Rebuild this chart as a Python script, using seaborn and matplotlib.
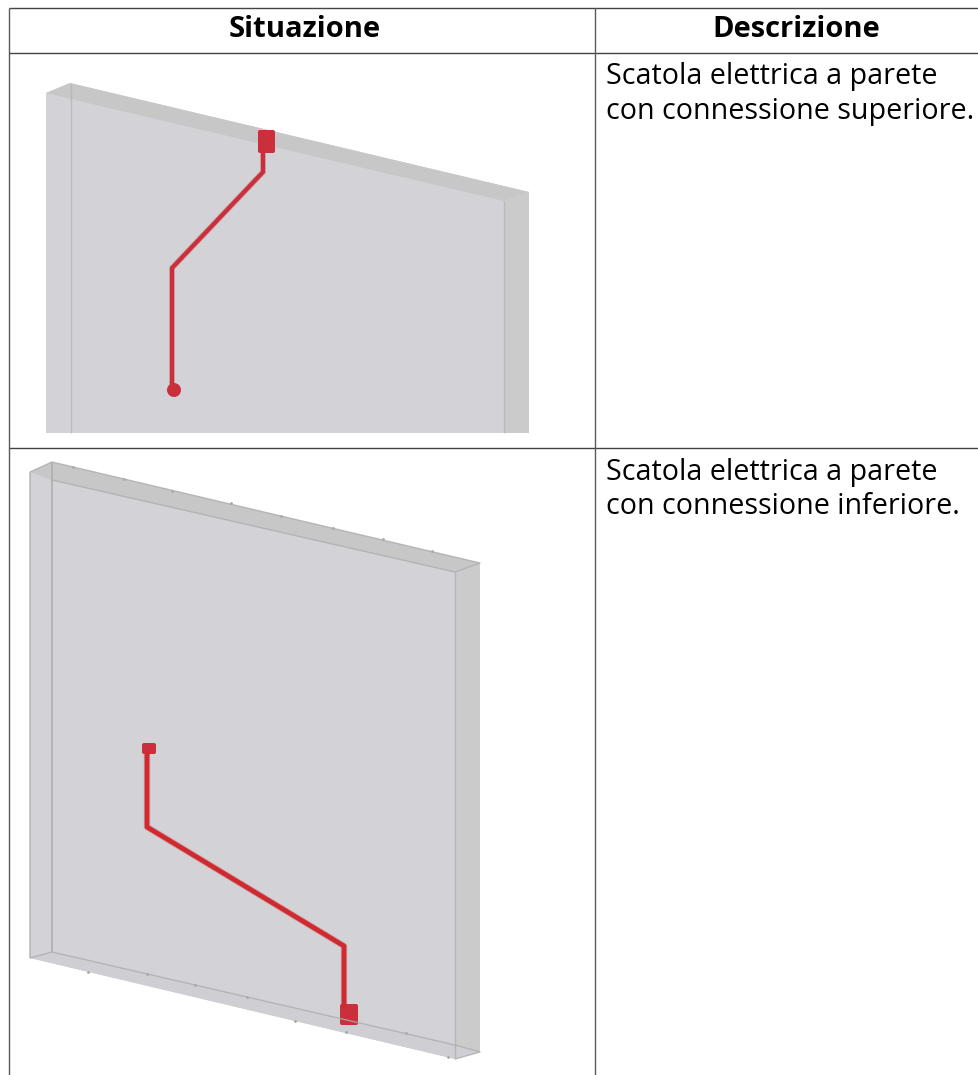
import matplotlib.pyplot as plt
import seaborn as sns
import pandas as pd
from matplotlib.patches import FancyBboxPatch, Circle

# testi tabella
header_labels = ["Situazione", "Descrizione"]
row_texts = ["Scatola elettrica a parete\ncon connessione superiore.",
             "Scatola elettrica a parete\ncon connessione inferiore."]

# griglia tabella (pixel)
grid_h = [8, 53, 448]
grid_v = [9, 595]

# parete 1
wall1_outline = [(46, 93), (70, 83), (529, 192), (529, 433), (46, 433)]
wall1_top = [(46, 93), (70, 83), (529, 192), (504, 201), (71, 99)]
wall1_right = [(504, 201), (529, 192), (529, 433), (504, 433)]
wall1_edge_left = [(71, 84), (71, 433)]
wall1_edge_right = [(504, 201), (504, 433)]
wall1_route_x = [263, 263, 172, 172]
wall1_route_y = [153, 172, 268, 390]
wall1_box = (258, 130, 17, 23)
wall1_end = (174, 390)

# parete 2
wall2_outline = [(30, 472), (52, 462), (480, 563), (480, 1052), (455, 1059), (30, 958)]
wall2_top = [(30, 472), (52, 462), (480, 563), (455, 572), (52, 480)]
wall2_right = [(455, 572), (480, 563), (480, 1052), (455, 1045)]
wall2_bottom = [(30, 958), (52, 952), (455, 1045), (480, 1052), (455, 1059)]
wall2_edge_left = [(52, 462), (52, 952)]
wall2_edge_right = [(455, 572), (455, 1059)]
wall2_edge_front = [(30, 472), (30, 958)]
wall2_route_x = [147, 147, 344, 344]
wall2_route_y = [754, 827, 946, 1005]
wall2_cap = (142, 743, 14, 11)
wall2_box = (340, 1004, 18, 21)
# piccole tacche lungo i bordi
notch_x = [73, 124, 172, 231, 281, 333, 383, 432, 88, 147, 195, 247, 295, 346, 406, 448]
notch_y = [467, 479, 491, 503, 516, 528, 539, 551, 972, 974, 985, 997, 1021, 1032, 1033, 1057]

GREY_FRONT = "#d2d2d7"
GREY_TOP = "#c8c7c7"
GREY_SIDE = "#cbcbcb"
GREY_EDGE = "#aeaeb0"
RED1 = "#c9303b"
RED2 = "#cf2a30"

sns.set_theme(style="white")
plt.rcParams["font.family"] = ["Open Sans", "Noto Sans", "DejaVu Sans"]

fig = plt.figure(figsize=(9.79, 10.75), dpi=100)
ax = fig.add_axes([0, 0, 1, 1])
ax.set_xlim(0, 979)
ax.set_ylim(1075, 0)
ax.axis("off")


def poly(points, color):
    xs, ys = zip(*points)
    ax.fill(xs, ys, color=color, linewidth=0)


def edge(points, width=1.0, alpha=1.0):
    xs, ys = zip(*points)
    ax.plot(xs, ys, color=GREY_EDGE, lw=width, alpha=alpha, solid_capstyle="butt")


def route(xs, ys, color, width):
    d = pd.DataFrame({"x": xs, "y": ys})
    # alone sfumato come nell'immagine originale
    sns.lineplot(data=d, x="x", y="y", sort=False, estimator=None, color=color,
                 linewidth=width + 1.2, alpha=0.3, ax=ax, legend=False)
    sns.lineplot(data=d, x="x", y="y", sort=False, estimator=None, color=color,
                 linewidth=width, ax=ax, legend=False)


def box(spec, color):
    x, y, w, h = spec
    ax.add_patch(FancyBboxPatch((x + 2, y + 2), w - 4, h - 4, boxstyle="round,pad=2",
                                facecolor=color, edgecolor="none"))


# parete 1
poly(wall1_outline, GREY_FRONT)
poly(wall1_top, GREY_TOP)
poly(wall1_right, GREY_SIDE)
edge(wall1_edge_left, 1.0, 0.6)
edge(wall1_edge_right, 1.0, 0.6)
route(wall1_route_x, wall1_route_y, RED1, 3.0)
box(wall1_box, RED1)
ax.add_patch(Circle(wall1_end, 7, color=RED1, lw=0))

# parete 2
poly(wall2_outline, GREY_FRONT)
poly(wall2_top, GREY_TOP)
poly(wall2_right, GREY_SIDE)
poly(wall2_bottom, "#cfcfd3")
edge(wall2_edge_left, 1.2)
edge(wall2_edge_right, 1.0, 0.7)
edge(wall2_edge_front, 1.2, 0.8)
edge(wall2_top, 1.0, 0.8)
edge(wall2_bottom, 1.0, 0.8)
sns.scatterplot(x=notch_x, y=notch_y, s=4, color="#a6a6a8", linewidth=0, ax=ax, legend=False)
route(wall2_route_x, wall2_route_y, RED2, 3.4)
box(wall2_cap, RED1)
box(wall2_box, RED1)

# griglia
for y in grid_h:
    ax.plot([grid_v[0], 979], [y, y], color="#444444", lw=1.0, solid_capstyle="butt")
for x in grid_v:
    ax.plot([x, x], [grid_h[0], 1075], color="#5a5a5a", lw=1.0, solid_capstyle="butt")

# testi
for x_c, label in zip([304.5, 796], header_labels):
    ax.text(x_c, 37, label, fontsize=21, fontweight="bold", color="black",
            ha="center", va="baseline")
ax.text(606.5, 119, row_texts[0], fontsize=20.6, color="black", va="baseline", linespacing=1.27)
ax.text(606.5, 514.5, row_texts[1], fontsize=20.6, color="black", va="baseline", linespacing=1.27)

ax.set_xlim(0, 979)
ax.set_ylim(1075, 0)
ax.axis("off")
plt.savefig("out.png", dpi=100)
plt.close()
